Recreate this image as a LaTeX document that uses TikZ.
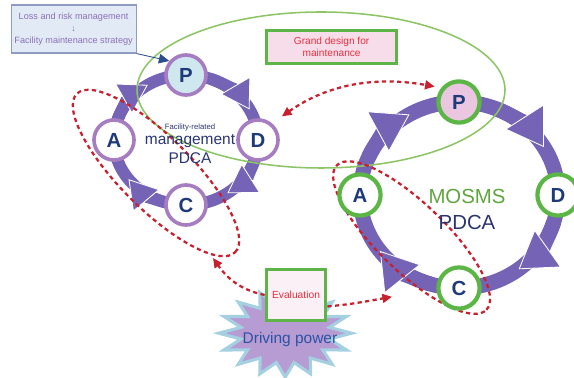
\documentclass[tikz,border=0pt]{standalone}
\usepackage{fontspec}
\setmainfont{Liberation Sans}
\usetikzlibrary{arrows.meta,calc,positioning}
\definecolor{ringpurple}{HTML}{7563B5}
\definecolor{leftedge}{HTML}{A67DC1}
\definecolor{leftfillp}{HTML}{CFE7EF}
\definecolor{rightedge}{HTML}{5CB646}
\definecolor{rightfillp}{HTML}{EAC6E0}
\definecolor{lettercol}{HTML}{1F3A78}
\definecolor{designgreen}{HTML}{8CC466}
\definecolor{boxgreen}{HTML}{5DB548}
\definecolor{pinkfill}{HTML}{F7DDE9}
\definecolor{dashred}{HTML}{C8202E}
\definecolor{textred}{HTML}{E3303F}
\definecolor{riskedge}{HTML}{8E9CC2}
\definecolor{riskfill}{HTML}{E2EBF5}
\definecolor{risktext}{HTML}{8B6FB6}
\definecolor{pointerblue}{HTML}{2B4E8E}
\definecolor{starfill}{HTML}{B79CD3}
\definecolor{staredge}{HTML}{A5D0E2}
\definecolor{powerblue}{HTML}{2C52A6}
\definecolor{mosmsgreen}{HTML}{5FA63E}
\definecolor{navytext}{HTML}{2A3570}
\newcommand{\cycleletter}{\fontsize{14.5}{16}\selectfont\bfseries\color{lettercol}}
\newcommand{\notetext}{\fontsize{6.5}{8.5}\selectfont}
\tikzset{
  >={Triangle[length=2.4mm,width=2.2mm]},
  smallring/.style={draw=ringpurple,line width=3mm},
  bigring/.style={draw=ringpurple,line width=3.75mm},
  smallhead/.style={-{Triangle[length=7mm,width=8.6mm,fill=ringpurple,color=white,line width=.6pt]}},
  bighead/.style={-{Triangle[length=9mm,width=11.5mm,fill=ringpurple,color=white,line width=.6pt]}},
  leftstep/.style={circle,draw=leftedge,line width=2.6pt,fill=white,minimum size=1cm,inner sep=0pt,font=\cycleletter},
  rightstep/.style={circle,draw=rightedge,line width=3pt,fill=white,minimum size=1.03cm,inner sep=0pt,font=\cycleletter},
  designline/.style={draw=designgreen,line width=1.1pt},
  dashlink/.style={draw=dashred,line width=1.6pt,dash pattern=on 3pt off 2.4pt},
  pointer/.style={-{Triangle[length=2.6mm,width=2.4mm]},draw=pointerblue,line width=.6pt},
  riskbox/.style={draw=riskedge,line width=.8pt,fill=riskfill,align=center,text=risktext,font=\notetext,minimum width=3.125cm,minimum height=1.2cm,inner sep=1pt},
  designbox/.style={draw=boxgreen,line width=2.6pt,fill=pinkfill,align=center,text=textred,font=\fontsize{7.2}{8.2}\selectfont,minimum width=3.25cm,minimum height=.82cm},
  evalbox/.style={draw=boxgreen,line width=2.6pt,fill=pinkfill!45,text=textred,font=\fontsize{7.3}{8.4}\selectfont,minimum width=1.48cm,minimum height=1.28cm,inner sep=0pt},
  powerstar/.style={fill=starfill,draw=staredge,line width=2.2pt,line join=miter}
}

\begin{document}
\begin{tikzpicture}[x=1cm,y=1cm]
  \useasboundingbox (0,0) rectangle (14.35,9.45);
  \coordinate (lc) at (4.65,5.95);
  \coordinate (rc) at (11.475,4.575);
  \coordinate (designc) at (8.025,7.2);
  \coordinate (lcheck) at (3.9,5.125);
  \coordinate (rcheck) at (10.29,3.51);
  \coordinate (lgoal) at (5.325,3.0);
  \coordinate (rgoal) at (9.8,2.03);
  \coordinate (starc) at (7.13,1.12);

  % Rings of the two cycles, heads laid over them.
  \draw[smallring] (lc) ellipse[x radius=1.8cm,y radius=1.625cm];
  \foreach \a in {28,-55,-143,122}
    \draw[smallring,smallhead] ($(lc)+({\a+42}:1.8cm and 1.625cm)$) arc[start angle=\a+42,end angle=\a,x radius=1.8cm,y radius=1.625cm];
  \draw[bigring] (rc) ellipse[x radius=2.475cm,y radius=2.325cm];
  \foreach \a in {31,-53,-143,120}
    \draw[bigring,bighead] ($(rc)+({\a+36}:2.475cm and 2.325cm)$) arc[start angle=\a+36,end angle=\a,x radius=2.475cm,y radius=2.325cm];

  % Grand design scope and the check/act groupings.
  \draw[designline] (designc) ellipse[x radius=4.6cm,y radius=1.95cm];
  \draw[dashlink,rotate=-45] (lcheck) ellipse[x radius=2.8cm,y radius=.9cm];
  \draw[dashlink,rotate=-44] (rcheck) ellipse[x radius=2.6cm,y radius=.85cm];

  % Step circles.
  \node[leftstep,fill=leftfillp] (lP) at ($(lc)+(0,1.625)$) {P};
  \node[leftstep] (lD) at ($(lc)+(1.8,0)$) {D};
  \node[leftstep] (lC) at ($(lc)+(0,-1.625)$) {C};
  \node[leftstep] (lA) at ($(lc)+(-1.8,0)$) {A};
  \node[rightstep,fill=rightfillp] (rP) at ($(rc)+(0,2.325)$) {P};
  \node[rightstep] (rD) at ($(rc)+(2.475,0)$) {D};
  \node[rightstep] (rC) at ($(rc)+(0,-2.325)$) {C};
  \node[rightstep] (rA) at ($(rc)+(-2.475,0)$) {A};

  % Cycle titles.
  \node[text=navytext,font=\fontsize{5.5}{6}\selectfont] (facility) at (4.75,6.25) {Facility-related};
  \node[text=navytext,font=\fontsize{11}{12}\selectfont] (mgmt) at (4.75,5.93) {management};
  \node[text=navytext,font=\fontsize{11}{12}\selectfont] (lpdca) at (4.75,5.5) {PDCA};
  \node[text=mosmsgreen,font=\fontsize{14.5}{16}\selectfont] (mosms) at (11.675,4.55) {MOSMS};
  \node[text=navytext,font=\fontsize{14.5}{16}\selectfont] (rpdca) at (11.675,3.88) {PDCA};

  % Boxes and the driving power burst.
  \node[riskbox] (risk) at (1.84,8.725) {Loss and risk management\\↓\\Facility maintenance strategy};
  \node[designbox] (design) at (8.29,8.275) {Grand design for\\maintenance};
  \draw[powerstar,shift={(starc)},xscale=1.66,yscale=1.1] plot[samples at={0,11.25,...,348.75}] (\x:{1-0.32*mod(round(\x/11.25),2)}) -- cycle;
  \node[evalbox] (eval) at (7.4,2.075) {Evaluation};
  \node[text=powerblue,font=\fontsize{11}{13}\selectfont] (powertext) at (7.25,0.95) {Driving power};

  % Links.
  \draw[pointer] (risk.south east) -- (lP.140);
  \draw[dashlink,<->,shorten <=.3cm,shorten >=.17cm] (lD.50) to[out=35,in=170] (rP.141);
  \draw[dashlink,->] (eval.west) to[out=168,in=-55] (lgoal);
  \draw[dashlink,->] (eval.-20) to[out=5,in=190] (rgoal);
\end{tikzpicture}
\end{document}
